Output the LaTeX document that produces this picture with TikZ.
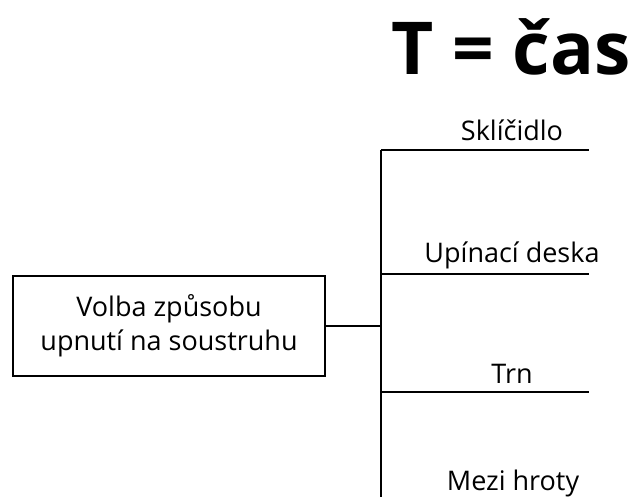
\documentclass[tikz,border=0pt]{standalone}
\usepackage{fontspec}
\setmainfont{Open Sans}
\usetikzlibrary{positioning}

\tikzset{
    volba/.style={draw, line width=2pt, minimum width=312pt, minimum height=100pt, align=center, inner sep=0pt, font=\fontsize{27}{34}\selectfont},
    popis/.style={anchor=base, inner sep=0pt, font=\fontsize{27}{30}\selectfont},
    nadpis/.style={anchor=base, inner sep=0pt, font=\fontsize{73}{80}\selectfont\bfseries},
}

\begin{document}
\begin{tikzpicture}[x=1pt, y=-1pt, line width=2pt]
    \useasboundingbox (0,0) rectangle (637,497);

    \node[nadpis] (cas) at (511,75) {T = čas};

    \node[volba] (volba) at (169,326) {Volba způsobu\\upnutí na soustruhu};

    % kmen a odbocky
    \coordinate (uzel) at (381,326);
    \coordinate (o1) at (381,150);
    \coordinate (o2) at (381,274);
    \coordinate (o3) at (381,392);
    \coordinate (dole) at (381,497);
    \coordinate (k1) at (589,150);
    \coordinate (k2) at (589,274);
    \coordinate (k3) at (589,392);

    \draw (volba.east |- uzel) -- (uzel);
    \draw (o1) -- (dole);
    \draw (o1) -- (k1);
    \draw (o2) -- (k2);
    \draw (o3) -- (k3);

    \node[popis] (sklicidlo) at (512,141) {Sklíčidlo};
    \node[popis] (deska) at (512,262) {Upínací deska};
    \node[popis] (trn) at (512,383) {Trn};
    \node[popis] (hroty) at (513,490) {Mezi hroty};
\end{tikzpicture}
\end{document}
